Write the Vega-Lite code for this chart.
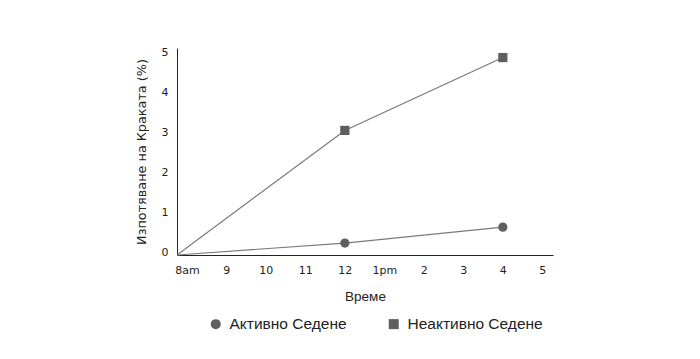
{
  "$schema": "https://vega.github.io/schema/vega-lite/v6.json",
  "width": 376,
  "height": 207,
  "autosize": {"type": "none"},
  "padding": {"left": 177, "top": 48, "right": 147, "bottom": 104},
  "background": "white",
  "config": {
    "view": {"stroke": null},
    "font": "DejaVu Sans"
  },
  "data": {
    "values": [
      {"hour": 7.75, "value": 0, "series": "Активно Седене"},
      {"hour": 12, "value": 0.3, "series": "Активно Седене"},
      {"hour": 16, "value": 0.7, "series": "Активно Седене"},
      {"hour": 7.75, "value": 0, "series": "Неактивно Седене"},
      {"hour": 12, "value": 3.13, "series": "Неактивно Седене"},
      {"hour": 16, "value": 4.96, "series": "Неактивно Седене"}
    ]
  },
  "encoding": {
    "x": {
      "field": "hour",
      "type": "quantitative",
      "scale": {"domain": [7.75, 17.27], "nice": false, "zero": false},
      "axis": {
        "values": [8, 9, 10, 11, 12, 13, 14, 15, 16, 17],
        "labelExpr": "datum.value == 8 ? '8am' : datum.value == 13 ? '1pm' : datum.value > 12 ? datum.value - 12 : datum.value",
        "ticks": false,
        "grid": false,
        "domainColor": "#222222",
        "domainWidth": 1.2,
        "labelFont": "DejaVu Sans",
        "labelFontSize": 11,
        "labelColor": "#222222",
        "labelPadding": 9,
        "title": "Време",
        "titleFont": "Liberation Sans",
        "titleFontSize": 13.5,
        "titleFontWeight": "normal",
        "titleColor": "#222222",
        "titlePadding": 14
      }
    },
    "y": {
      "field": "value",
      "type": "quantitative",
      "scale": {"domain": [0, 5.2], "nice": false},
      "axis": {
        "values": [0, 1, 2, 3, 4, 5],
        "ticks": false,
        "grid": false,
        "domainColor": "#222222",
        "labelFont": "DejaVu Sans",
        "labelFontSize": 11,
        "labelColor": "#222222",
        "labelPadding": 9,
        "labelOffset": -3,
        "title": "Изпотяване на Краката (%)",
        "titleFont": "DejaVu Sans",
        "titleFontSize": 12.8,
        "titleFontWeight": "normal",
        "titleColor": "#222222",
        "titlePadding": 13
      }
    }
  },
  "layer": [
    {
      "mark": {"type": "line", "color": "#7a7a7a", "strokeWidth": 1.2},
      "encoding": {"detail": {"field": "series"}}
    },
    {
      "transform": [{"filter": "datum.hour >= 8"}],
      "mark": {"type": "point", "filled": true, "opacity": 1, "color": "#5f5f5f", "size": 85},
      "encoding": {
        "shape": {
          "field": "series",
          "type": "nominal",
          "scale": {"domain": ["Активно Седене", "Неактивно Седене"], "range": ["circle", "square"]},
          "legend": {
            "title": null,
            "orient": "none",
            "direction": "horizontal",
            "legendX": 31,
            "legendY": 268,
            "labelFont": "Liberation Sans",
            "labelFontSize": 15.5,
            "labelColor": "#222222",
            "symbolSize": 100,
            "symbolFillColor": "#5f5f5f",
            "symbolStrokeColor": "#5f5f5f",
            "symbolOpacity": 1,
            "columnPadding": 38,
            "labelOffset": 6
          }
        }
      }
    }
  ]
}
